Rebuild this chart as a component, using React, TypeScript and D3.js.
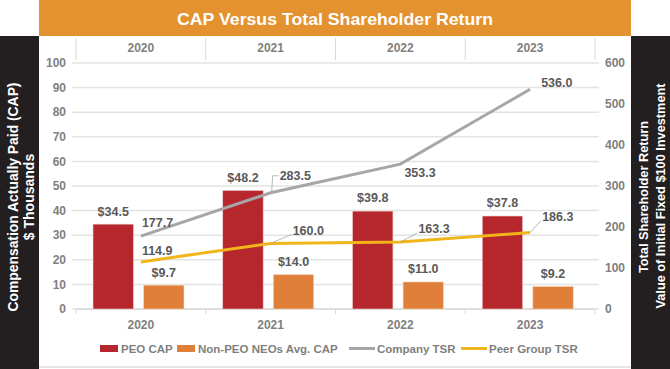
import React from 'react';
import * as d3 from 'd3';

const years = ['2020', '2021', '2022', '2023'];
const peoCap = [34.5, 48.2, 39.8, 37.8];
const neoCap = [9.7, 14.0, 11.0, 9.2];
const companyTsr = [177.7, 283.5, 353.3, 536.0];
const peerTsr = [114.9, 160.0, 163.3, 186.3];
const leftTicks = [0, 10, 20, 30, 40, 50, 60, 70, 80, 90, 100];
const rightTicks = [0, 100, 200, 300, 400, 500, 600];

// label offsets relative to the point (style, not data)
const companyOffsets = [[1, -14, false], [9, -17, true], [4, 8, false], [11, -7, false]];
const peerOffsets = [[1, -11, false], [22, -13, true], [18, -13, true], [12, -16, true]];

const W = 670, H = 369;
const DARK = '#231f20';
const ORANGE = '#e4922f';
const RED = '#b5272d';
const NEO = '#e07f3a';
const GRAY = '#a6a6a6';
const GOLD = '#f0b51b';
const FONT = '"Liberation Sans", Arial, sans-serif';

export default function App() {
  const x = d3.scaleBand().domain(years).range([76, 595]);
  const inner = d3.scaleBand().domain(['peo', 'neo']).range([17, 108]).paddingInner(0.2);
  const yL = d3.scaleLinear().domain([0, 100]).range([309, 63]);
  const yR = d3.scaleLinear().domain([0, 600]).range([309, 63]);
  const cx = (y: string) => (x(y) as number) + x.bandwidth() / 2;

  const line = d3.line<number>().x((_, i) => cx(years[i])).y(v => yR(v));

  const pointLabels = (vals: number[], offs: any[]) =>
    vals.map((v, i) => {
      const px = cx(years[i]);
      const py = yR(v);
      const [dx, dy, leader] = offs[i];
      const lx = px + dx, ly = py + dy;
      return (
        <g key={i}>
          {leader && (
            <path d={i === 1 && vals === companyTsr
              ? `M${px + 1},${py} L${px + 2},${ly} L${lx - 1},${ly}`
              : `M${px},${py} L${lx - 1},${ly + 4}`}
              fill="none" stroke="#a6a6a6" strokeWidth={0.8} />
          )}
          <text x={lx} y={ly} dy="0.35em" fontSize={12.5} fontWeight="bold" fill="#595959">{v.toFixed(1)}</text>
        </g>
      );
    });

  const legend = [
    { label: 'PEO CAP', color: RED, kind: 'rect', x: 100 },
    { label: 'Non-PEO NEOs Avg. CAP', color: NEO, kind: 'rect', x: 177 },
    { label: 'Company TSR', color: GRAY, kind: 'line', x: 349 },
    { label: 'Peer Group TSR', color: GOLD, kind: 'line', x: 461 },
  ];

  return (
    <svg width={W} height={H} style={{ position: 'absolute', left: 0, top: 0 }} fontFamily={FONT}>
      <rect x={0} y={0} width={W} height={H} fill="#fff" />
      <rect x={0} y={36} width={39} height={H - 36} fill={DARK} />
      <rect x={631} y={36} width={39} height={H - 36} fill={DARK} />
      <rect x={39} y={0} width={592} height={36} fill={ORANGE} />
      <text x={335} y={19} dy="0.35em" textAnchor="middle" fontSize={17} fontWeight="bold" fill="#fff"
        fontFamily='"Liberation Sans Narrow", "Arial Narrow", sans-serif' textLength={316} lengthAdjust="spacingAndGlyphs">
        CAP Versus Total Shareholder Return
      </text>
      <line x1={39} x2={631} y1={367} y2={367} stroke="#e6e6e6" strokeWidth={2} />

      {/* axis titles */}
      <g transform="translate(13,197) rotate(-90)">
        <text textAnchor="middle" dy="0.35em" fontSize={14} fontWeight="bold" fill="#fff" textLength={229} lengthAdjust="spacingAndGlyphs">Compensation Actually Paid (CAP)</text>
      </g>
      <g transform="translate(29,197) rotate(-90)">
        <text textAnchor="middle" dy="0.35em" fontSize={14} fontWeight="bold" fill="#fff">$ Thousands</text>
      </g>
      <g transform="translate(643,197) rotate(-90)">
        <text textAnchor="middle" dy="0.35em" fontSize={13.5} fontWeight="bold" fill="#fff" textLength={152} lengthAdjust="spacingAndGlyphs">Total Shareholder Return</text>
      </g>
      <g transform="translate(660,196) rotate(-90)">
        <text textAnchor="middle" dy="0.35em" fontSize={13.5} fontWeight="bold" fill="#fff" textLength={225} lengthAdjust="spacingAndGlyphs">Value of Initial Fixed $100 Investment</text>
      </g>

      {/* top year header */}
      {years.map(y => (
        <text key={'t' + y} x={cx(y)} y={48} dy="0.35em" textAnchor="middle" fontSize={12} fontWeight="bold" fill="#7f7f7f">{y}</text>
      ))}
      {[76, ...years.map(y => (x(y) as number) + x.bandwidth())].map((vx, i) => (
        <line key={'d' + i} x1={vx} x2={vx} y1={38} y2={60} stroke="#d9d9d9" strokeWidth={1} />
      ))}

      {/* gridlines */}
      {leftTicks.map(t => (
        <line key={'g' + t} x1={72} x2={599} y1={yL(t)} y2={yL(t)} stroke="#e3e3e3" strokeWidth={1.5} />
      ))}
      <line x1={76} x2={595} y1={yL(0)} y2={yL(0)} stroke="#d9d9d9" strokeWidth={1.5} />
      {[76, ...years.map(y => (x(y) as number) + x.bandwidth())].map((vx, i) => (
        <line key={'b' + i} x1={vx} x2={vx} y1={309} y2={314} stroke="#d9d9d9" strokeWidth={1} />
      ))}
      {leftTicks.map(t => (
        <text key={'l' + t} x={66} y={yL(t)} dy="0.35em" textAnchor="end" fontSize={12} fontWeight="bold" fill="#7f7f7f">{t}</text>
      ))}
      {rightTicks.map(t => (
        <text key={'r' + t} x={605} y={yR(t)} dy="0.35em" textAnchor="start" fontSize={12} fontWeight="bold" fill="#7f7f7f">{t}</text>
      ))}

      {/* bars */}
      {years.map((y, i) => {
        const x0 = x(y) as number;
        const bw = inner.bandwidth();
        const px = x0 + (inner('peo') as number);
        const nx = x0 + (inner('neo') as number);
        return (
          <g key={'bar' + y}>
            <rect x={px} y={yL(peoCap[i])} width={bw} height={yL(0) - yL(peoCap[i])} fill={RED} stroke="#f2d0d0" strokeWidth={0.6} />
            <rect x={nx} y={yL(neoCap[i])} width={bw} height={yL(0) - yL(neoCap[i])} fill={NEO} stroke="#f7dcc6" strokeWidth={0.6} />
            <text x={px + bw / 2} y={yL(peoCap[i]) - 13} dy="0.35em" textAnchor="middle" fontSize={12.5} fontWeight="bold" fill="#595959">${peoCap[i].toFixed(1)}</text>
            <text x={nx + bw / 2} y={yL(neoCap[i]) - 13} dy="0.35em" textAnchor="middle" fontSize={12.5} fontWeight="bold" fill="#595959">${neoCap[i].toFixed(1)}</text>
          </g>
        );
      })}

      {/* lines */}
      <path d={line(companyTsr) as string} fill="none" stroke={GRAY} strokeWidth={3} />
      <path d={line(peerTsr) as string} fill="none" stroke={GOLD} strokeWidth={3} />
      {pointLabels(companyTsr, companyOffsets)}
      {pointLabels(peerTsr, peerOffsets)}

      {/* bottom year labels */}
      {years.map(y => (
        <text key={'bt' + y} x={cx(y)} y={325} dy="0.35em" textAnchor="middle" fontSize={12} fontWeight="bold" fill="#7f7f7f">{y}</text>
      ))}

      {/* legend */}
      {legend.map(l => (
        <g key={l.label}>
          {l.kind === 'rect'
            ? <rect x={l.x} y={345} width={18} height={7} fill={l.color} />
            : <line x1={l.x} x2={l.x + 26} y1={348.5} y2={348.5} stroke={l.color} strokeWidth={3} />}
          <text x={l.x + (l.kind === 'rect' ? 21 : 28)} y={349} dy="0.35em" fontSize={11.5} fontWeight="bold" fill="#7f7f7f">{l.label}</text>
        </g>
      ))}
    </svg>
  );
}
